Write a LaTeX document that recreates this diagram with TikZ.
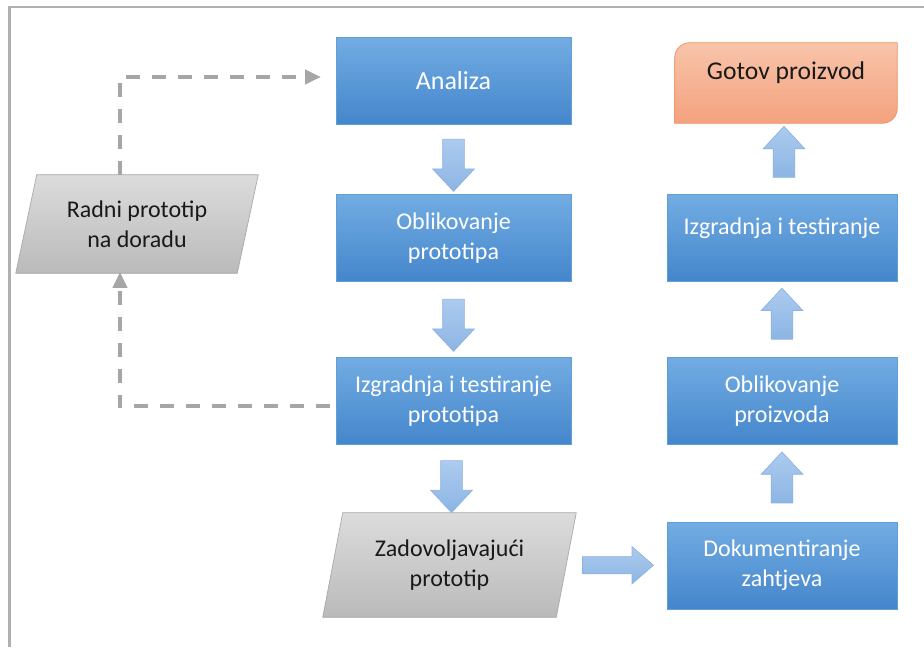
\documentclass[tikz,border=0pt]{standalone}
\usepackage{fontspec}
\setmainfont{Carlito}
\usetikzlibrary{calc,arrows.meta,shapes.arrows}
\pgfdeclarelayer{background}
\pgfsetlayers{background,main}
\definecolor{bluetop}{RGB}{114,172,226}
\definecolor{bluebot}{RGB}{68,134,204}
\definecolor{blueline}{RGB}{96,158,214}
\definecolor{arrtop}{RGB}{172,203,238}
\definecolor{arrbot}{RGB}{140,181,228}
\definecolor{arrline}{RGB}{140,178,226}
\definecolor{graytop}{RGB}{220,220,220}
\definecolor{graybot}{RGB}{186,186,186}
\definecolor{grayline}{RGB}{168,168,168}
\definecolor{ortop}{RGB}{248,196,170}
\definecolor{orbot}{RGB}{244,162,126}
\definecolor{orline}{RGB}{236,150,104}
\definecolor{dashgray}{RGB}{166,166,166}
\definecolor{framegray}{RGB}{176,176,176}
\definecolor{darktext}{RGB}{25,25,25}
\begin{document}
\begin{tikzpicture}[x=0.75pt,y=-0.75pt,
  txt/.style={font=\fontsize{18}{22.5}\selectfont, align=center, inner sep=0pt},
  bluebox/.style={txt, text=white, rectangle, top color=bluetop, bottom color=bluebot,
     draw=blueline, line width=0.5pt, minimum height=87*0.75pt},
  leftbox/.style={bluebox, minimum width=235*0.75pt},
  rightbox/.style={bluebox, minimum width=230*0.75pt},
  slantholder/.style={txt, text=darktext, rectangle},
  slantshape/.style={top color=graytop, bottom color=graybot, draw=grayline, line width=0.5pt},
  orshape/.style={top color=ortop, bottom color=orbot, draw=orline, line width=0.6pt},
  blockarrow/.style={single arrow, top color=arrtop, bottom color=arrbot, draw=arrline,
     line width=0.5pt, inner sep=10.5*0.75pt, single arrow head extend=10*0.75pt,
     single arrow tip angle=86, minimum width=0pt},
  dashline/.style={draw=dashgray, line width=3pt, dash pattern=on 10.5pt off 9pt,
     -{Triangle[length=12pt,width=10.5pt]}}
]
\useasboundingbox (0,0) rectangle (924,647);
\draw[framegray, line width=1.6pt] (9.5,647) -- (9.5,7) -- (924,7);

% left column
\node[leftbox, font=\fontsize{19.5}{24}\selectfont] (analiza) at (453.5,81) {Analiza};
\node[leftbox] (oblik) at (453.5,238) {Oblikovanje\\prototipa};
\node[leftbox] (izgr) at (453.5,401) {Izgradnja i testiranje\\prototipa};
\node[slantholder, minimum width=233*0.75pt, minimum height=104*0.75pt] (zad) at (449.5,565) {Zadovoljavajući\\prototip};
\node[slantholder, minimum width=221*0.75pt, minimum height=98*0.75pt] (radni) at (137,224) {Radni prototip\\na doradu};

% right column
\node[txt, text=darktext, rectangle, minimum width=222*0.75pt, minimum height=80*0.75pt,
  font=\fontsize{19.2}{23}\selectfont] (gotov) at (786,83)
  {\raisebox{7.5pt}[\height][\depth]{Gotov proizvod}};
\node[rightbox] (izgrp) at (782,238) {\raisebox{7.5pt}[\height][\depth]{Izgradnja i testiranje}};
\node[rightbox] (oblikp) at (782,401) {Oblikovanje\\proizvoda};
\node[rightbox] (dok) at (782,565.5) {Dokumentiranje\\zahtjeva};

\begin{pgfonlayer}{background}
\path[slantshape] ($(radni.north west)+(10.5,0)$) -- ($(radni.north east)+(10.5,0)$)
  -- ($(radni.south east)+(-10.5,0)$) -- ($(radni.south west)+(-10.5,0)$) -- cycle;
\path[slantshape] ($(zad.north west)+(10,0)$) -- ($(zad.north east)+(10,0)$)
  -- ($(zad.south east)+(-10,0)$) -- ($(zad.south west)+(-10,0)$) -- cycle;
\path[orshape] (gotov.south west) -- ($(gotov.north west)+(0,15)$)
  .. controls ($(gotov.north west)+(0,6.7)$) and ($(gotov.north west)+(6.7,0)$) .. ($(gotov.north west)+(15,0)$)
  -- (gotov.north east) -- ($(gotov.south east)+(0,-15)$)
  .. controls ($(gotov.south east)+(0,-6.7)$) and ($(gotov.south east)+(-6.7,0)$) .. ($(gotov.south east)+(-15,0)$)
  -- cycle;
\end{pgfonlayer}

% block arrows
\node[blockarrow, shape border rotate=270, minimum height=52*0.75pt] (d1) at ($(analiza.south)!0.5!(oblik.north)$) {};
\node[blockarrow, shape border rotate=270, minimum height=52*0.75pt] (d2) at ($(oblik.south)!0.5!(izgr.north)$) {};
\node[blockarrow, shape border rotate=270, minimum height=52*0.75pt] (d3) at ($(izgr.south)!0.5!(zad.north)+(0,2)$) {};
\node[blockarrow, shape border rotate=90, minimum height=51*0.75pt] (u1) at ($(gotov.south)!0.5!(izgrp.north)+(0,-1)$) {};
\node[blockarrow, shape border rotate=90, minimum height=51*0.75pt] (u2) at ($(izgrp.south)!0.5!(oblikp.north)$) {};
\node[blockarrow, shape border rotate=90, minimum height=51*0.75pt] (u3) at ($(oblikp.south)!0.5!(dok.north)$) {};
\node[blockarrow, shape border rotate=0, inner sep=8.3*0.75pt, minimum height=71*0.75pt,
  single arrow tip angle=82] (r1) at ($(zad.east)!0.5!(dok.west)+(-3.5,0)$) {};

% dashed feedback loop
\draw[dashline, shorten >=11pt] ($(radni.north)+(-17,0)$) |- ([yshift=3pt]analiza.west);
\draw[dashline, shorten <=4pt, shorten >=-1pt] ([yshift=-4pt]izgr.west) -| ($(radni.south)+(-17,0)$);
\end{tikzpicture}
\end{document}
